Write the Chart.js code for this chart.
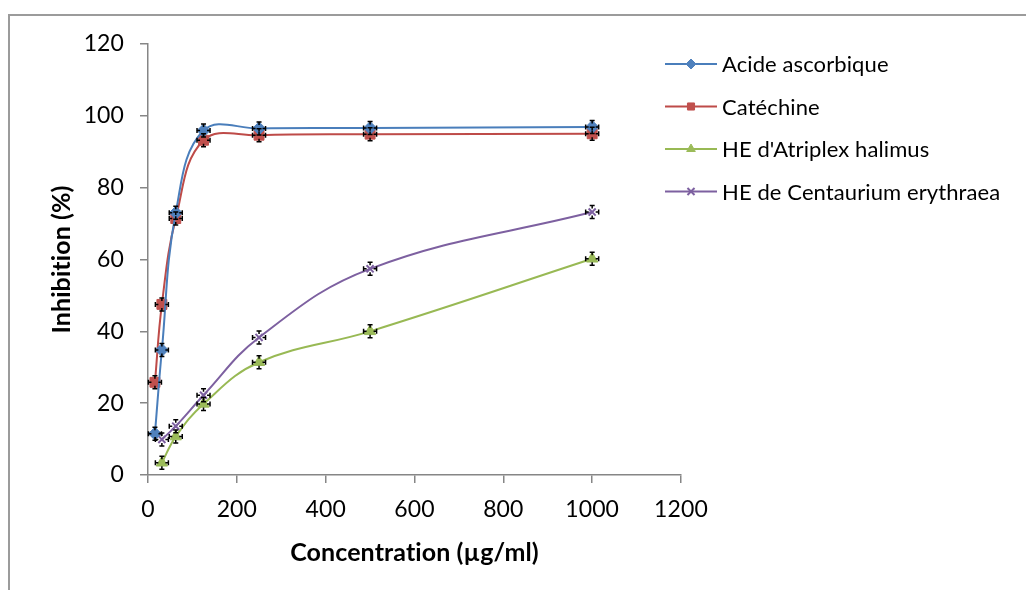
<!DOCTYPE html>
<html>
<head>
<meta charset="utf-8">
<script src="https://cdn.jsdelivr.net/npm/chart.js@4"></script>
<style>
html, body { margin: 0; padding: 0; background: #fff; overflow: hidden; }
#wrap { position: relative; width: 1026px; height: 590px; overflow: hidden; }
#frame { position: absolute; left: 8px; top: 14px; width: 1200px; height: 800px; border: 2px solid #9b9b9b; }
#chart { position: absolute; left: 0; top: 0; }
</style>
</head>
<body>
<div id="wrap">
  <div id="frame"></div>
  <canvas id="chart" width="1026" height="590"></canvas>
</div>
<script>
// Concentrations (µg/ml)
const concStandards = [15.625, 31.25, 62.5, 125, 250, 500, 1000];
const concEssentialOils = [31.25, 62.5, 125, 250, 500, 1000];

// Inhibition (%)
const acideAscorbique = [11.5, 34.8, 73.0, 95.9, 96.5, 96.6, 96.9];
const catechine = [25.8, 47.5, 71.4, 93.2, 94.6, 94.9, 95.0];
const atriplexHalimus = [3.4, 10.7, 19.8, 31.4, 40.0, 60.2];
const centauriumErythraea = [9.9, 13.6, 22.2, 38.3, 57.4, 73.2];

const seriesLabels = ['Acide ascorbique', 'Catéchine', "HE d'Atriplex halimus", 'HE de Centaurium erythraea'];

const FONT = 'Lato, "Open Sans", sans-serif';

function toPoints(xs, ys) {
    return xs.map((x, i) => ({ x: x, y: ys[i] }));
}

function makeSeries(label, xs, ys, line, fill, style, radius) {
    return {
        label: label,
        data: toPoints(xs, ys),
        borderColor: line,
        borderWidth: 2,
        pointStyle: style,
        pointRadius: radius,
        pointBackgroundColor: fill,
        pointBorderColor: style === 'crossRot' ? line : fill,
        pointBorderWidth: style === 'crossRot' ? 2 : 1,
        tension: 0.4,
        fill: false
    };
}

// no "ti" ligature in Lato
const noLigatures = {
    id: 'noLigatures',
    beforeDraw(chart) { chart.ctx.letterSpacing = '0.1px'; }
};

// Small black error bars, mostly hidden under the markers
const errorBars = {
    id: 'errorBars',
    afterDatasetsDraw(chart) {
        const ctx = chart.ctx;
        const arm = 6.5, cap = 2.5;
        ctx.save();
        ctx.strokeStyle = '#000';
        ctx.lineWidth = 1.5;
        chart.data.datasets.forEach((ds, i) => {
            chart.getDatasetMeta(i).data.forEach(pt => {
                const x = pt.x, y = pt.y;
                ctx.beginPath();
                ctx.moveTo(x, y - arm); ctx.lineTo(x, y - arm + 3);
                ctx.moveTo(x, y + arm); ctx.lineTo(x, y + arm - 3);
                ctx.moveTo(x - arm, y); ctx.lineTo(x - arm + 3, y);
                ctx.moveTo(x + arm, y); ctx.lineTo(x + arm - 3, y);
                ctx.moveTo(x - cap, y - arm); ctx.lineTo(x + cap, y - arm);
                ctx.moveTo(x - cap, y + arm); ctx.lineTo(x + cap, y + arm);
                ctx.moveTo(x - arm, y - cap); ctx.lineTo(x - arm, y + cap);
                ctx.moveTo(x + arm, y - cap); ctx.lineTo(x + arm, y + cap);
                ctx.stroke();
            });
        });
        ctx.restore();
    }
};

// Legend drawn to the right of the plot
const sideLegend = {
    id: 'sideLegend',
    afterDraw(chart, args, opts) {
        const ctx = chart.ctx;
        chart.data.datasets.forEach((ds, i) => {
            const y = opts.top + i * opts.rowGap;
            const x0 = opts.left;
            ctx.save();
            ctx.strokeStyle = ds.borderColor;
            ctx.lineWidth = 2;
            ctx.beginPath();
            ctx.moveTo(x0, y);
            ctx.lineTo(x0 + opts.lineLength, y);
            ctx.stroke();
            ctx.fillStyle = ds.pointBackgroundColor;
            ctx.strokeStyle = ds.pointBorderColor;
            ctx.lineWidth = ds.pointBorderWidth;
            Chart.helpers.drawPoint(ctx, {
                pointStyle: ds.pointStyle,
                radius: opts.markerRadius,
                rotation: 0,
                borderWidth: ds.pointBorderWidth
            }, x0 + opts.lineLength / 2, y);
            ctx.fillStyle = '#000';
            ctx.font = opts.font;
            ctx.textBaseline = 'middle';
            ctx.textAlign = 'left';
            ctx.fillText(ds.label, x0 + opts.lineLength + 5, y + 1);
            ctx.restore();
        });
    }
};

const axisGray = '#868686';

new Chart(document.getElementById('chart'), {
    type: 'line',
    data: {
        datasets: [
            makeSeries(seriesLabels[0], concStandards, acideAscorbique, '#4A7EBB', '#4F81BD', 'rectRot', 6.5),
            makeSeries(seriesLabels[1], concStandards, catechine, '#BE4B48', '#C0504D', 'rect', 7),
            makeSeries(seriesLabels[2], concEssentialOils, atriplexHalimus, '#98B954', '#9BBB59', 'triangle', 6.5),
            makeSeries(seriesLabels[3], concEssentialOils, centauriumErythraea, '#7D60A0', '#8064A2', 'crossRot', 5)
        ]
    },
    options: {
        responsive: false,
        animation: false,
        layout: { padding: { left: 47, top: 44, right: 345, bottom: 22 } },
        plugins: {
            legend: { display: false },
            tooltip: { enabled: false },
            sideLegend: {
                left: 665, top: 64, rowGap: 42.5, lineLength: 52, markerRadius: 5,
                font: '22px ' + FONT
            }
        },
        scales: {
            x: {
                type: 'linear',
                min: 0, max: 1200,
                ticks: {
                    stepSize: 200, color: '#000', font: { family: FONT, size: 23 }, padding: 13, maxRotation: 0,
                    callback: v => String(v)
                },
                grid: { drawOnChartArea: false, tickLength: 8, color: axisGray, lineWidth: 1.5 },
                border: { color: axisGray, width: 1.5 },
                title: { display: true, text: 'Concentration (µg/ml)', color: '#000', font: { family: FONT, size: 25, weight: 'bold' }, padding: 0 },
                afterFit(scale) { scale.height = 93; }
            },
            y: {
                min: 0, max: 120,
                ticks: {
                    stepSize: 20, color: '#000', font: { family: FONT, size: 23 }, padding: 16,
                    callback: v => String(v)
                },
                grid: { drawOnChartArea: false, tickLength: 8, color: axisGray, lineWidth: 1.5 },
                border: { color: axisGray, width: 1.5 },
                title: { display: true, text: 'Inhibition (%)', color: '#000', font: { family: FONT, size: 25, weight: 'bold' }, padding: 0 },
                afterFit(scale) { scale.width = 101; }
            }
        }
    },
    plugins: [noLigatures, errorBars, sideLegend]
});
</script>
</body>
</html>
